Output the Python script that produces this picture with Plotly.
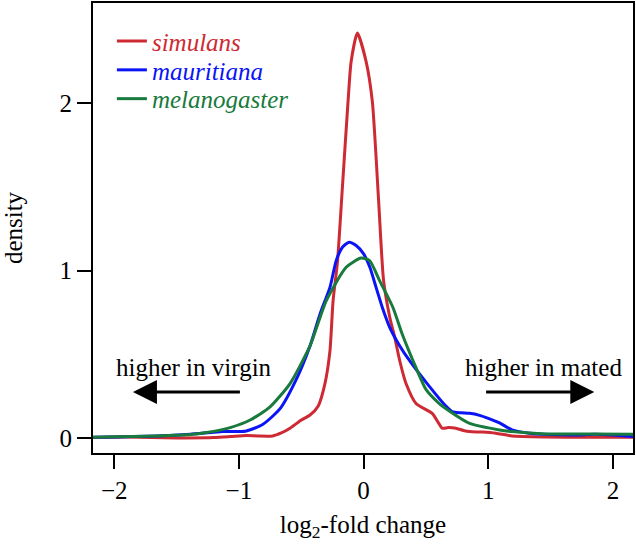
import plotly.graph_objects as go

# log2-fold change (x) and density (y)
sim_x = [-2.17, -1.9, -1.5, -1.2, -1.07, -0.94, -0.85, -0.73, -0.66, -0.59, -0.5, -0.43, -0.365, -0.31, -0.27,
         -0.245, -0.21, -0.17, -0.125, -0.1, -0.05, 0.02, 0.07, 0.12, 0.16, 0.21, 0.25, 0.29, 0.34, 0.42, 0.55,
         0.6, 0.63, 0.68, 0.74, 0.8, 0.85, 0.95, 1.06, 1.19, 1.46, 1.8, 2.16]
sim_y = [0.003, 0.005, 0.0, 0.002, 0.008, 0.015, 0.012, 0.012, 0.03, 0.058, 0.107, 0.137, 0.19, 0.325, 0.52,
         0.82, 1.05, 1.5, 2.01, 2.25, 2.42, 2.25, 2.01, 1.42, 0.94, 0.72, 0.6, 0.46, 0.325, 0.206, 0.147,
         0.09, 0.058, 0.062, 0.058, 0.045, 0.038, 0.035, 0.028, 0.012, 0.006, 0.004, 0.004]

mau_x = [-2.17, -1.66, -1.39, -1.13, -1.0, -0.94, -0.81, -0.67, -0.54, -0.43, -0.35, -0.27, -0.22, -0.17,
         -0.117, -0.06, 0.0, 0.05, 0.1, 0.15, 0.21, 0.29, 0.37, 0.53, 0.66, 0.71, 0.78, 0.85, 0.93, 1.0, 1.09,
         1.19, 1.33, 1.5, 1.73, 1.85, 2.0, 2.16]
mau_y = [0.004, 0.012, 0.022, 0.038, 0.038, 0.042, 0.08, 0.175, 0.35, 0.55, 0.74, 0.9, 1.06, 1.14,
         1.17, 1.15, 1.1, 1.02, 0.9, 0.78, 0.66, 0.55, 0.46, 0.305, 0.19, 0.157, 0.15, 0.147, 0.135, 0.117, 0.09,
         0.048, 0.028, 0.02, 0.018, 0.022, 0.018, 0.008]

mel_x = [-2.17, -1.66, -1.39, -1.26, -1.07, -0.91, -0.75, -0.59, -0.43, -0.3, -0.14,
         -0.02, 0.048, 0.128, 0.235, 0.31, 0.42, 0.5, 0.6, 0.69, 0.85, 1.09, 1.19, 1.46, 1.8, 2.16]
mel_y = [0.004, 0.012, 0.02, 0.032, 0.062, 0.107, 0.186, 0.325, 0.55, 0.82, 1.02,
         1.075, 1.06, 0.94, 0.78, 0.62, 0.42, 0.29, 0.21, 0.16, 0.087, 0.048, 0.038, 0.024, 0.024, 0.022]

series_names = ["simulans", "mauritiana", "melanogaster"]
series_colors = ["#cd2a34", "#0a14f5", "#187a3c"]
x_ticks = [-2, -1, 0, 1, 2]
y_ticks = [0, 1, 2]

FONT = "Liberation Serif, Times New Roman, serif"
FS = 25

fig = go.Figure()
legend_ids = ["legend", "legend2", "legend3"]
for i, (name, color, xs, ys) in enumerate(zip(series_names, series_colors,
                                              [sim_x, mau_x, mel_x], [sim_y, mau_y, mel_y])):
    fig.add_trace(go.Scatter(
        x=xs, y=ys, mode="lines",
        line=dict(color=color, width=3, shape="spline", smoothing=0.6),
        name=f"<span style='color:{color}'><i>{name}</i></span>",
        legend=legend_ids[i],
    ))

axis_common = dict(
    showline=True, mirror=True, linecolor="black", linewidth=2,
    ticks="outside", ticklen=14, tickwidth=2, tickcolor="black",
    showgrid=False, zeroline=False,
    tickfont=dict(family=FONT, size=FS, color="black"),
)

legend_common = dict(x=0.035, xanchor="left", yanchor="top", bgcolor="rgba(0,0,0,0)",
                     font=dict(family=FONT, size=FS), itemwidth=30)

fig.update_layout(
    width=636, height=547,
    margin=dict(l=93, r=2, t=1, b=94),
    paper_bgcolor="white", plot_bgcolor="white",
    font=dict(family=FONT, size=FS, color="black"),
    xaxis=dict(range=[-2.17, 2.16], tickvals=x_ticks,
               title=dict(text="log<sub>2</sub>-fold change", font=dict(family=FONT, size=FS), standoff=12),
               **axis_common),
    yaxis=dict(range=[-0.09, 2.60], tickvals=y_ticks,
               title=dict(text="density", font=dict(family=FONT, size=FS), standoff=34),
               **axis_common),
    legend=dict(y=0.966, **legend_common),
    legend2=dict(y=0.902, **legend_common),
    legend3=dict(y=0.838, **legend_common),
    showlegend=True,
)

# direction labels with arrows
fig.add_annotation(x=-1.36, y=0.42, text="higher in virgin", showarrow=False,
                   font=dict(family=FONT, size=FS, color="black"))
fig.add_annotation(x=1.44, y=0.42, text="higher in mated", showarrow=False,
                   font=dict(family=FONT, size=FS, color="black"))
fig.add_annotation(x=-1.85, y=0.274, ax=-0.98, ay=0.274, axref="x", ayref="y",
                   text="", showarrow=True, arrowhead=2, arrowsize=1.6, arrowwidth=3, arrowcolor="black")
fig.add_annotation(x=1.85, y=0.274, ax=0.97, ay=0.274, axref="x", ayref="y",
                   text="", showarrow=True, arrowhead=2, arrowsize=1.6, arrowwidth=3, arrowcolor="black")

fig.write_html("out.html", config={"displayModeBar": False},
               post_script="document.body.style.margin='0';document.body.style.overflow='hidden';")
